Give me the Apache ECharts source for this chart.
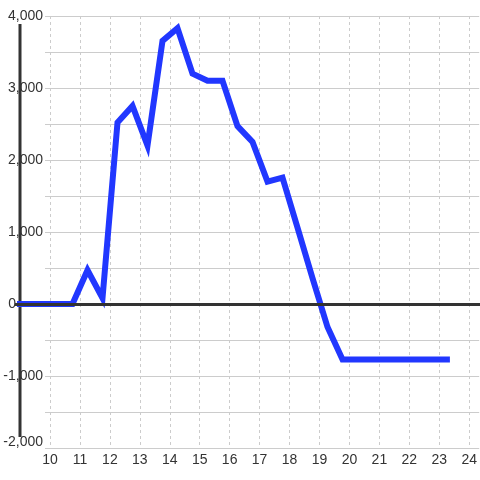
<!DOCTYPE html>
<html>
<head>
<meta charset="utf-8">
<script src="https://cdn.jsdelivr.net/npm/echarts@6/dist/echarts.min.js"></script>
<style>
  html, body { margin: 0; padding: 0; background: #fff; }
  #chart { width: 480px; height: 480px; }
</style>
</head>
<body>
<div id="chart"></div>
<script>
// hour of day (x) and value (y)
const hours = [8.9, 10.75, 11.25, 11.75, 12.25, 12.75, 13.25, 13.75, 14.25, 14.75,
  15.25, 15.75, 16.25, 16.75, 17.25, 17.75, 18.25, 18.75, 19.25, 19.75,
  20.25, 20.75, 21.25, 21.75, 22.25, 22.75, 23.33];
const values = [0, 0, 470, 80, 2520, 2750, 2200, 3655, 3830, 3200,
  3100, 3100, 2470, 2250, 1700, 1755, 1060, 360, -320, -770,
  -770, -770, -770, -770, -770, -770, -770];
const xTicks = [10, 11, 12, 13, 14, 15, 16, 17, 18, 19, 20, 21, 22, 23, 24];

const fontFamily = "'Liberation Sans', Arial, sans-serif";
const chart = echarts.init(document.getElementById('chart'));

// grid 0 holds the gridlines and labels; grid 1 is the same scale
// but starts further left so the line can run past the labels
chart.setOption({
  animation: false,
  grid: [
    { left: 45, right: 0, top: 16, bottom: 32 },
    { left: 15, right: 0, top: 16, bottom: 32 }
  ],
  xAxis: [
    {
      gridIndex: 0,
      type: 'value',
      min: 9.8333,
      max: 24.3333,
      axisLine: { show: false },
      axisTick: { show: false, customValues: xTicks },
      axisLabel: {
        customValues: xTicks,
        color: '#333',
        fontSize: 14,
        fontFamily: fontFamily,
        margin: 5
      },
      splitLine: {
        show: true,
        lineStyle: { color: '#ccc', type: [3, 3], width: 1 }
      }
    },
    {
      gridIndex: 1,
      type: 'value',
      min: 8.8333,
      max: 24.3333,
      show: false
    }
  ],
  yAxis: [
    {
      gridIndex: 0,
      type: 'value',
      min: -2000,
      max: 4000,
      interval: 500,
      axisLine: { show: false },
      axisTick: { show: false },
      axisLabel: {
        color: '#333',
        fontSize: 14,
        fontFamily: fontFamily,
        margin: 2,
        formatter: function (v) {
          if (v % 1000 !== 0) return '';
          const s = v.toLocaleString('en-US');
          if (v === -2000) return '{low|' + s + '}';
          if (v === 0) return '{zero|' + s + '}';
          return s;
        },
        rich: {
          low: { fontSize: 14, fontFamily: fontFamily, color: '#333', padding: [0, 0, 12, 0] },
          zero: { fontSize: 14, fontFamily: fontFamily, color: '#333', padding: [0, 27, 0, 0] }
        }
      },
      splitLine: { lineStyle: { color: '#ccc', width: 1 } }
    },
    {
      gridIndex: 1,
      type: 'value',
      min: -2000,
      max: 4000,
      show: false,
      splitLine: { show: false }
    }
  ],
  graphic: [{
    type: 'line',
    shape: { x1: 20, y1: 24, x2: 20, y2: 437 },
    style: { stroke: '#333', lineWidth: 3 },
    z: 1
  }],
  series: [
    {
      type: 'line',
      xAxisIndex: 1,
      yAxisIndex: 1,
      data: [],
      z: 1,
      markLine: {
        silent: true,
        symbol: 'none',
        label: { show: false },
        lineStyle: { color: '#333', width: 3, type: 'solid' },
        data: [{ yAxis: 0 }]
      }
    },
    {
      type: 'line',
      xAxisIndex: 1,
      yAxisIndex: 1,
      data: hours.map((h, i) => [h, values[i]]),
      z: 3,
      showSymbol: false,
      lineStyle: { color: '#2137ff', width: 6, cap: 'butt', join: 'miter' },
      itemStyle: { color: '#2137ff' }
    }
  ]
});
</script>
</body>
</html>
